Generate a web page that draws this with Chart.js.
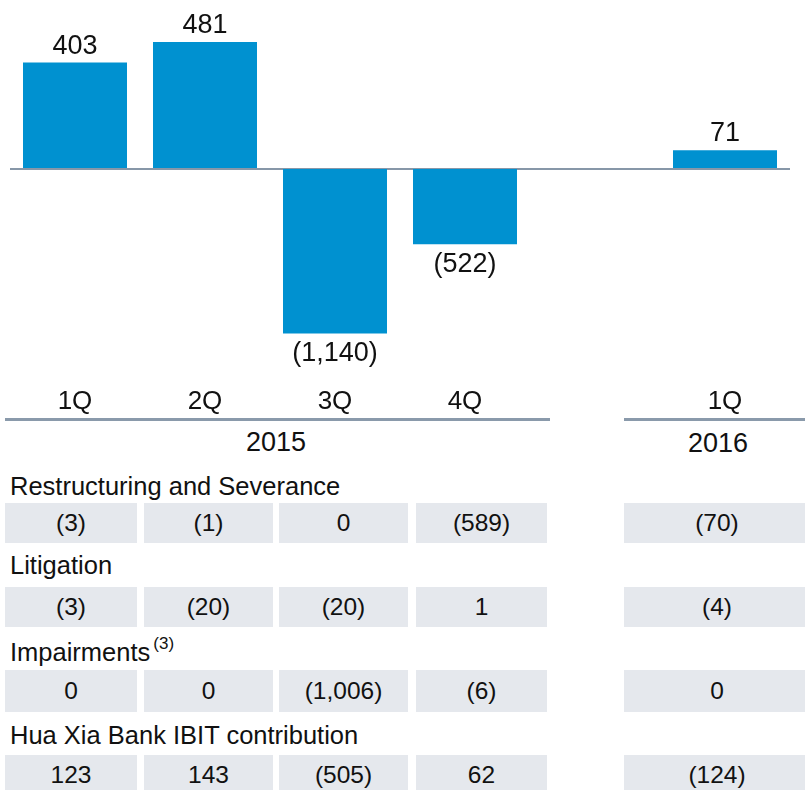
<!DOCTYPE html>
<html>
<head>
<meta charset="utf-8">
<script src="https://cdn.jsdelivr.net/npm/chart.js@4"></script>
<style>
  html, body { margin:0; padding:0; background:#fff; }
  body { width:805px; height:790px; position:relative; overflow:hidden;
         font-family:"Liberation Sans", Arial, sans-serif; color:#111; }
  #c { position:absolute; left:0; top:0; }
  .line { position:absolute; height:3px; background:#8a9aab; }
  .year { position:absolute; font-size:27px; text-align:center; height:30px; line-height:30px; }
  .title { position:absolute; left:10px; font-size:25.5px; height:30px; line-height:30px; white-space:nowrap; }
  .cell { position:absolute; background:#e5e8ed; font-size:24.5px; text-align:center; }
  .sup { font-size:17px; position:relative; top:-12px; margin-left:3px; }
</style>
</head>
<body>
<canvas id="c" width="805" height="420"></canvas>
<div id="table"></div>
<script>
// ---- data ----
const categories = ['1Q', '2Q', '3Q', '4Q', '', '1Q'];
const netIncome = [403, 481, -1140, -522, null, 71];
const years = ['2015', '2016'];
const rowTitles = ['Restructuring and Severance', 'Litigation', 'Impairments', 'Hua Xia Bank IBIT contribution'];
const restructuring = [-3, -1, 0, -589, -70];
const litigation = [-3, -20, -20, 1, -4];
const impairments = [0, 0, -1006, -6, 0];
const huaXia = [123, 143, -505, 62, -124];

function fmt(v) {
  const s = Math.abs(v).toLocaleString('en-US');
  return v < 0 ? '(' + s + ')' : s;
}

const FONT = '"Liberation Sans", Arial, sans-serif';
Chart.defaults.font.family = FONT;
const barColor = '#0091d0';

const positives = netIncome.map(v => (v !== null && v >= 0) ? v : null);
const negatives = netIncome.map(v => (v !== null && v < 0) ? v : null);

const labelPlugin = {
  id: 'barLabels',
  afterDatasetsDraw(chart) {
    const ctx = chart.ctx;
    ctx.save();
    ctx.font = '27px ' + FONT;
    ctx.fillStyle = '#111';
    ctx.textAlign = 'center';
    ctx.textBaseline = 'alphabetic';
    chart.data.datasets.forEach((ds, di) => {
      const meta = chart.getDatasetMeta(di);
      meta.data.forEach((el, i) => {
        const v = ds.data[i];
        if (v === null || v === undefined) return;
        if (v >= 0) ctx.fillText(fmt(v), el.x, el.y - 9);
        else ctx.fillText(fmt(v), el.x, el.y + 28);
      });
    });
    ctx.restore();
  }
};

new Chart(document.getElementById('c'), {
  type: 'bar',
  data: {
    labels: categories,
    datasets: [
      { data: positives, yAxisID: 'yPos', backgroundColor: barColor, grouped: false,
        barPercentage: 0.8, categoryPercentage: 1.0 },
      { data: negatives, yAxisID: 'yNeg', backgroundColor: barColor, grouped: false,
        barPercentage: 0.8, categoryPercentage: 1.0 }
    ]
  },
  options: {
    responsive: false,
    animation: false,
    devicePixelRatio: 1,
    layout: { padding: { left: 10, right: 15, top: 0, bottom: 0 } },
    plugins: { legend: { display: false }, tooltip: { enabled: false } },
    scales: {
      x: {
        grid: { display: false, drawTicks: false },
        border: { display: false },
        ticks: { font: { size: 26 }, color: '#111', padding: 10, maxRotation: 0, autoSkip: false },
        afterFit(s) { s.height = 44; }
      },
      yPos: {
        position: 'left',
        min: -784, max: 640,
        afterBuildTicks(s) { s.ticks = [{ value: 0 }]; },
        ticks: { display: false },
        grid: { drawTicks: false, lineWidth: 2, color: '#8797a8' },
        border: { display: false }
      },
      yNeg: {
        position: 'right',
        display: false,
        min: -1435, max: 1171
      }
    }
  },
  plugins: [labelPlugin]
});

// ---- year group labels and table (HTML) ----
const root = document.getElementById('table');
function el(cls, style, text) {
  const d = document.createElement('div');
  d.className = cls;
  Object.assign(d.style, style);
  if (text !== undefined) d.textContent = text;
  root.appendChild(d);
  return d;
}
// separator lines under quarter labels
el('line', { left: '5px', top: '418px', width: '545px' });
el('line', { left: '624px', top: '418px', width: '181px' });
// years
el('year', { left: '226px', top: '427px', width: '100px' }, years[0]);
el('year', { left: '668px', top: '428px', width: '100px' }, years[1]);

const rows = [restructuring, litigation, impairments, huaXia];
const titleCenters = [486, 565, 652, 735];
const cellTops = [503, 587, 670, 755];
const cellHeights = [40, 40, 42, 40];
const colLefts = [5, 144, 279, 416, 624];
const colWidths = [132, 129, 129, 131, 186];

rows.forEach((vals, r) => {
  const t = el('title', { top: (titleCenters[r] - 15) + 'px' }, rowTitles[r]);
  if (r === 2) {
    const s = document.createElement('span');
    s.className = 'sup';
    s.textContent = '(3)';
    t.appendChild(s);
  }
  vals.forEach((v, c) => {
    el('cell', {
      left: colLefts[c] + 'px', top: cellTops[r] + 'px',
      width: colWidths[c] + 'px', height: cellHeights[r] + 'px',
      lineHeight: cellHeights[r] + 'px'
    }, fmt(v));
  });
});
</script>
</body>
</html>
